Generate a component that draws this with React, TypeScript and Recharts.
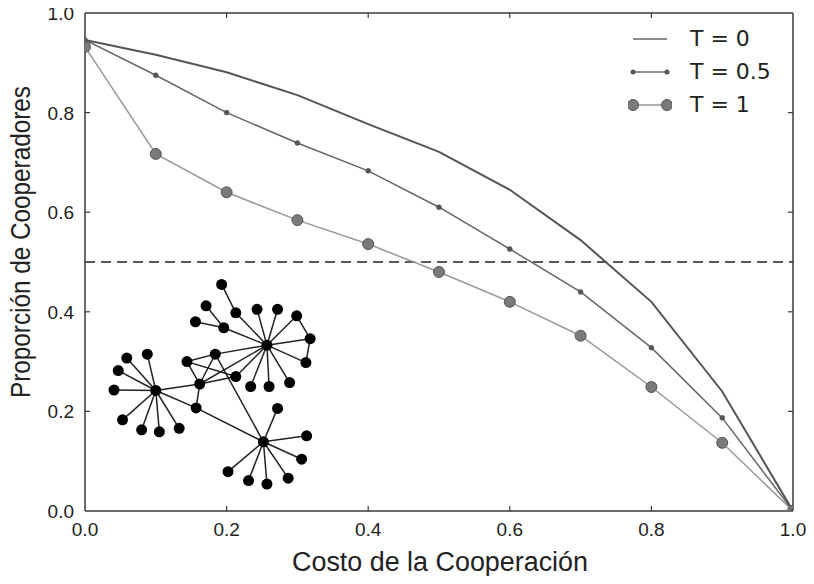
import React from "react"
import {
  ComposedChart,
  Line,
  Scatter,
  XAxis,
  YAxis,
  ReferenceLine,
} from "recharts"

// costo de la cooperacion
const costs = [0, 0.1, 0.2, 0.3, 0.4, 0.5, 0.6, 0.7, 0.8, 0.9, 1.0]
const t0 = [0.946, 0.916, 0.881, 0.835, 0.777, 0.721, 0.645, 0.544, 0.42, 0.24, 0]
const t05 = [0.946, 0.875, 0.8, 0.739, 0.683, 0.61, 0.526, 0.44, 0.328, 0.187, 0]
const t1 = [0.932, 0.717, 0.64, 0.584, 0.536, 0.48, 0.42, 0.352, 0.249, 0.137, 0]

const ticks = [0, 0.2, 0.4, 0.6, 0.8, 1.0]
const legendLabels = ["T = 0", "T = 0.5", "T = 1"]
const xLabel = "Costo de la Cooperación"
const yLabel = "Proporción de Cooperadores"

// network inset, nodes in data units
const nodes = [
  { x: 0.1, y: 0.242 },
  { x: 0.041, y: 0.243 },
  { x: 0.047, y: 0.282 },
  { x: 0.059, y: 0.307 },
  { x: 0.088, y: 0.315 },
  { x: 0.053, y: 0.183 },
  { x: 0.08, y: 0.163 },
  { x: 0.105, y: 0.159 },
  { x: 0.133, y: 0.166 },
  { x: 0.162, y: 0.255 },
  { x: 0.157, y: 0.207 },
  { x: 0.144, y: 0.3 },
  { x: 0.184, y: 0.315 },
  { x: 0.213, y: 0.27 },
  { x: 0.257, y: 0.333 },
  { x: 0.243, y: 0.405 },
  { x: 0.272, y: 0.405 },
  { x: 0.299, y: 0.392 },
  { x: 0.318, y: 0.346 },
  { x: 0.312, y: 0.298 },
  { x: 0.289, y: 0.258 },
  { x: 0.26, y: 0.25 },
  { x: 0.234, y: 0.25 },
  { x: 0.213, y: 0.398 },
  { x: 0.193, y: 0.455 },
  { x: 0.196, y: 0.368 },
  { x: 0.171, y: 0.412 },
  { x: 0.156, y: 0.38 },
  { x: 0.252, y: 0.139 },
  { x: 0.272, y: 0.206 },
  { x: 0.313, y: 0.151 },
  { x: 0.306, y: 0.104 },
  { x: 0.287, y: 0.066 },
  { x: 0.257, y: 0.054 },
  { x: 0.231, y: 0.061 },
  { x: 0.202, y: 0.079 },
]

const edges = [
  [0, 1], [0, 2], [0, 3], [0, 4], [0, 5], [0, 6], [0, 7], [0, 8], [0, 9], [0, 10],
  [9, 10], [9, 11], [9, 12], [9, 13], [9, 14], [11, 12], [11, 13], [12, 14], [13, 14],
  [12, 28], [10, 28],
  [14, 15], [14, 16], [14, 17], [14, 18], [14, 19], [14, 20], [14, 21], [14, 22],
  [14, 23], [14, 25], [23, 24], [25, 26], [25, 27], [17, 18], [18, 19],
  [28, 29], [28, 30], [28, 31], [28, 32], [28, 33], [28, 34], [28, 35],
]

const data = costs.map((c, i) => ({ x: c, t0: t0[i], t05: t05[i], t1: t1[i] }))

const AXIS = "#3a3a3a"
const TICK_FONT = "'Liberation Sans', Arial, sans-serif"
const LABEL_FONT = "'Liberation Sans', Arial, sans-serif"
const LEGEND_FONT = "'DejaVu Sans', sans-serif"

const inner = (v: number) => v > 0 && v < 1

const BottomTick = (p: any) => {
  const { x, y, payload } = p
  return (
    <g>
      {inner(payload.value) && <line x1={x} y1={y} x2={x} y2={y - 5} stroke={AXIS} strokeWidth={1.2} />}
      <text x={x} y={y + 25} textAnchor="middle" fontSize={19} fontFamily={TICK_FONT} fill="#222">
        {payload.value.toFixed(1)}
      </text>
    </g>
  )
}

const LeftTick = (p: any) => {
  const { x, y, payload } = p
  return (
    <g>
      {inner(payload.value) && <line x1={x} y1={y} x2={x + 5} y2={y} stroke={AXIS} strokeWidth={1.2} />}
      <text x={x - 11} y={y + 7} textAnchor="end" fontSize={19} fontFamily={TICK_FONT} fill="#222">
        {payload.value.toFixed(1)}
      </text>
    </g>
  )
}

const TopTick = (p: any) => {
  const { x, y, payload } = p
  if (!inner(payload.value)) return <g />
  return <line x1={x} y1={y} x2={x} y2={y + 5} stroke={AXIS} strokeWidth={1.2} />
}

const RightTick = (p: any) => {
  const { x, y, payload } = p
  if (!inner(payload.value)) return <g />
  return <line x1={x} y1={y} x2={x - 5} y2={y} stroke={AXIS} strokeWidth={1.2} />
}

const XTitle = (p: any) => {
  const vb = p.viewBox
  return (
    <text
      x={vb.x + vb.width / 2 + 1}
      y={vb.y + 60}
      textAnchor="middle"
      fontSize={27}
      fontFamily={LABEL_FONT}
      fill="#222"
      textLength={296}
      lengthAdjust="spacingAndGlyphs"
    >
      {xLabel}
    </text>
  )
}

const YTitle = (p: any) => {
  const vb = p.viewBox
  const cx = 30
  const cy = vb.y + vb.height / 2 - 20
  return (
    <text
      x={cx}
      y={cy}
      transform={`rotate(-90 ${cx} ${cy})`}
      textAnchor="middle"
      fontSize={28}
      fontFamily={LABEL_FONT}
      fill="#222"
      textLength={312}
      lengthAdjust="spacingAndGlyphs"
    >
      {yLabel}
    </text>
  )
}

const NodeDot = (p: any) => <circle cx={p.cx} cy={p.cy} r={5.5} fill="#000" />

function LegendBox() {
  const samples = [
    <line x1={5} y1={10} x2={39} y2={10} stroke="#666" strokeWidth={1.5} />,
    <g>
      <line x1={5} y1={10} x2={39} y2={10} stroke="#666" strokeWidth={1.5} />
      <circle cx={5} cy={10} r={2.5} fill="#555" />
      <circle cx={39} cy={10} r={2.5} fill="#555" />
    </g>,
    <g>
      <line x1={5} y1={10} x2={39} y2={10} stroke="#999" strokeWidth={1.5} />
      <circle cx={5} cy={10} r={5.5} fill="#7a7a7a" stroke="#555" />
      <circle cx={39} cy={10} r={5.5} fill="#7a7a7a" stroke="#555" />
    </g>,
  ]
  return (
    <div style={{ position: "absolute", left: 628, top: 22 }}>
      {legendLabels.map((lab, i) => (
        <div key={lab} style={{ display: "flex", alignItems: "center", height: 33 }}>
          <svg width={44} height={20}>{samples[i]}</svg>
          <span style={{ marginLeft: 18, fontFamily: LEGEND_FONT, fontSize: 22, color: "#222" }}>{lab}</span>
        </div>
      ))}
    </div>
  )
}

export default function App() {
  return (
    <div style={{ position: "relative", width: 814, height: 584, margin: -8, background: "#fff" }}>
      <ComposedChart width={814} height={584} data={data} margin={{ top: 12, right: 20, bottom: 0, left: 0 }}>
        <XAxis
          type="number"
          dataKey="x"
          domain={[0, 1]}
          ticks={ticks}
          allowDataOverflow
          height={73}
          tickSize={0}
          tickMargin={0}
          tickLine={false}
          tick={BottomTick}
          stroke={AXIS}
          strokeWidth={1.5}
          label={XTitle}
        />
        <XAxis
          xAxisId="top"
          orientation="top"
          type="number"
          dataKey="x"
          domain={[0, 1]}
          ticks={ticks}
          allowDataOverflow
          height={1}
          tickSize={0}
          tickMargin={0}
          tickLine={false}
          tick={TopTick}
          stroke={AXIS}
          strokeWidth={1.5}
        />
        <YAxis
          type="number"
          domain={[0, 1]}
          ticks={ticks}
          allowDataOverflow
          width={85}
          tickSize={0}
          tickMargin={0}
          tickLine={false}
          tick={LeftTick}
          stroke={AXIS}
          strokeWidth={1.5}
          label={YTitle}
        />
        <YAxis
          yAxisId="right"
          orientation="right"
          type="number"
          domain={[0, 1]}
          ticks={ticks}
          allowDataOverflow
          width={1}
          tickSize={0}
          tickMargin={0}
          tickLine={false}
          tick={RightTick}
          stroke={AXIS}
          strokeWidth={1.5}
        />
        <ReferenceLine y={0.5} stroke="#222" strokeWidth={1.5} strokeDasharray="10 6" />
        {edges.map(([a, b], i) => (
          <ReferenceLine
            key={i}
            segment={[
              { x: nodes[a].x, y: nodes[a].y },
              { x: nodes[b].x, y: nodes[b].y },
            ]}
            stroke="#222"
            strokeWidth={1.5}
          />
        ))}
        <Scatter data={nodes} dataKey="y" shape={NodeDot} isAnimationActive={false} />
        <Line
          dataKey="t1"
          stroke="#999"
          strokeWidth={1.5}
          dot={{ r: 5.5, fill: "#7a7a7a", stroke: "#555", strokeWidth: 1 }}
          isAnimationActive={false}
        />
        <Line
          dataKey="t05"
          stroke="#666"
          strokeWidth={1.5}
          dot={{ r: 2.5, fill: "#555", stroke: "#555", strokeWidth: 0.5 }}
          isAnimationActive={false}
        />
        <Line dataKey="t0" stroke="#555" strokeWidth={2} dot={false} isAnimationActive={false} />
      </ComposedChart>
      <LegendBox />
    </div>
  )
}
